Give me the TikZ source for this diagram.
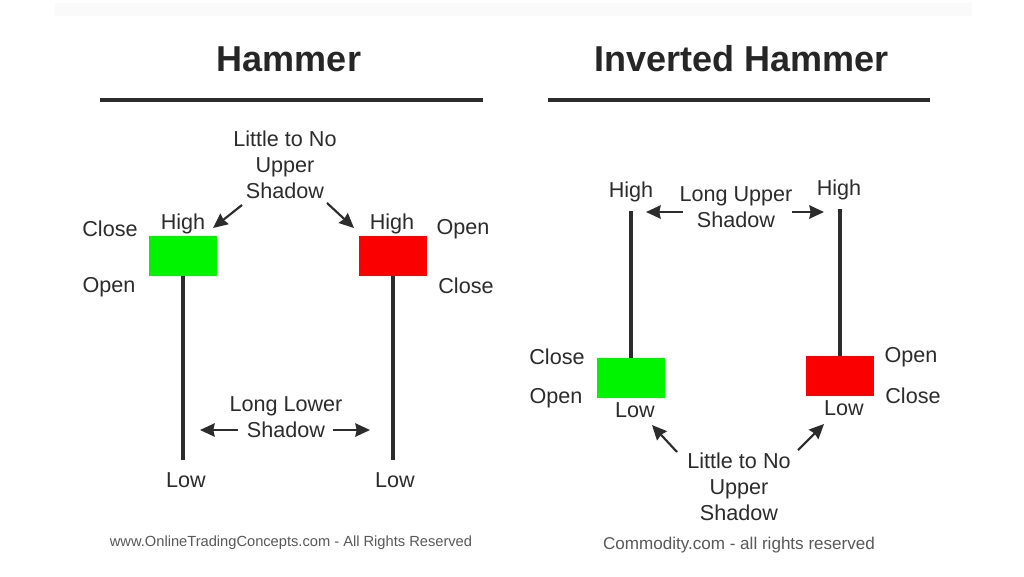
\documentclass[tikz,border=0pt]{standalone}
\usepackage{fontspec}
\setmainfont{Liberation Sans}
\usetikzlibrary{arrows.meta}
\definecolor{txt}{HTML}{2C2C2C}
\definecolor{gbox}{HTML}{00F400}
\definecolor{rbox}{HTML}{FA0000}
\tikzset{
 lbl/.style={text=txt,font=\fontsize{16.2}{19.6}\selectfont,inner sep=0pt,align=center},
 ttl/.style={text=black!85,font=\bfseries\fontsize{27}{30}\selectfont,inner sep=0pt},
 foot/.style={text=black!65,inner sep=0pt},
 rule/.style={draw=txt,line width=2.3pt},
 wick/.style={draw=txt,line width=2.3pt},
 arr/.style={draw=txt,line width=1.6pt,-{Stealth[length=11pt,width=10pt,inset=1pt]}},
 gc/.style={fill=gbox,draw=none,minimum width=51pt,minimum height=30pt,inner sep=0pt},
 rc/.style={fill=rbox,draw=none,minimum width=51pt,minimum height=30pt,inner sep=0pt},
}
\begin{document}
\begin{tikzpicture}[x=0.75pt,y=-0.75pt]
\useasboundingbox (0,0) rectangle (1024,576);
\fill[white] (0,0) rectangle (1024,576);
\fill[black!2] (55,3) rectangle (972,16);
% titles
\node[ttl] (t1) at (289,59) {Hammer};
\node[ttl] (t2) at (742,59) {Inverted Hammer};
\coordinate (r1a) at (100,100); \coordinate (r1b) at (483,100);
\coordinate (r2a) at (548,100); \coordinate (r2b) at (930,100);
\draw[rule] (r1a) -- (r1b);
\draw[rule] (r2a) -- (r2b);
% Left hammer
\node[lbl] (a1) at (285,165) {Little to No\\Upper\\Shadow};
\node[lbl] (hg) at (183,224) {High};
\node[lbl] (hr) at (392,224) {High};
\node[lbl] (cl) at (110,229) {Close};
\node[lbl] (ol) at (109,287) {Open};
\node[lbl] (or) at (463,229) {Open};
\node[lbl] (cr) at (466,286) {Close};
\node[gc] (bg) at (183,256) {};
\node[rc] (br) at (393,256) {};
\coordinate (lg) at (183,460); \coordinate (lr) at (393,460);
\draw[wick] (bg.south) -- (lg);
\draw[wick] (br.south) -- (lr);
\node[lbl] (lwg) at (186,480) {Low};
\node[lbl] (lwr) at (395,480) {Low};
\node[lbl] (ls) at (286,417) {Long Lower\\Shadow};
\coordinate (e1) at (213,228); \coordinate (s1) at (242,205);
\coordinate (e2) at (354,228); \coordinate (s2) at (327,203);
\draw[arr] (s1) -- (e1);
\draw[arr] (s2) -- (e2);
\coordinate (e3) at (200,430); \coordinate (s3) at (238,430);
\coordinate (e4) at (370,430); \coordinate (s4) at (333,430);
\draw[arr] (s3) -- (e3);
\draw[arr] (s4) -- (e4);
\node[foot,font=\fontsize{11}{13}\selectfont] (f1) at (291,543) {www.OnlineTradingConcepts.com - All Rights Reserved};
% Right
\node[lbl] (h2g) at (631,191.5) {High};
\node[lbl] (h2r) at (839,190) {High};
\node[lbl] (us) at (736,207) {Long Upper\\Shadow};
\node[gc] (bg2) at (631,378) {};
\node[rc] (br2) at (840,376) {};
\coordinate (t2g) at (631,211); \coordinate (t2r) at (840,209);
\draw[wick] (t2g) -- (bg2.north);
\draw[wick] (t2r) -- (br2.north);
\coordinate (e5) at (646,212); \coordinate (s5) at (683,212);
\coordinate (e6) at (824,212); \coordinate (s6) at (792,212);
\draw[arr] (s5) -- (e5);
\draw[arr] (s6) -- (e6);
\node[lbl] (c2l) at (557,357) {Close};
\node[lbl] (o2l) at (556,398) {Open};
\node[lbl] (o2r) at (911,357) {Open};
\node[lbl] (c2r) at (913,396) {Close};
\node[lbl] (l2g) at (635,410) {Low};
\node[lbl] (l2r) at (844,408) {Low};
\node[lbl] (lt) at (739,487) {Little to No\\Upper\\Shadow};
\coordinate (e7) at (652,425); \coordinate (s7) at (677,452);
\coordinate (e8) at (824,424); \coordinate (s8) at (798,450);
\draw[arr] (s7) -- (e7);
\draw[arr] (s8) -- (e8);
\node[foot,font=\fontsize{12.8}{15}\selectfont] (f2) at (739,545) {Commodity.com - all rights reserved};
\end{tikzpicture}
\end{document}
